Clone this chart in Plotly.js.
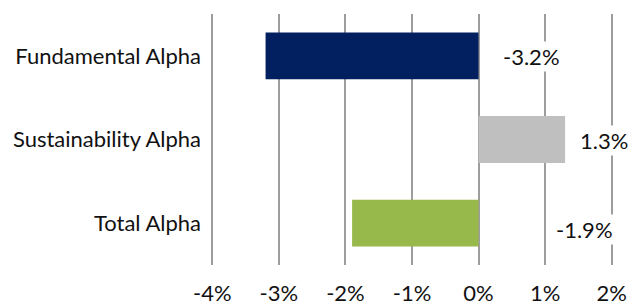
<!DOCTYPE html>
<html>
<head>
<meta charset="utf-8">
<script src="https://cdn.plot.ly/plotly-3.0.1.min.js"></script>
<style>html,body{margin:0;padding:0;background:#fff}#chart{width:628px;height:305px}</style>
</head>
<body>
<div id="chart"></div>
<script>
var categories = ["Fundamental Alpha", "Sustainability Alpha", "Total Alpha"];
var values = [-3.2, 1.3, -1.9];
var barColors = ["#022060", "#BFBFBF", "#97B84A"];
var labelText = ["-3.2%", "1.3%", "-1.9%"];
var tickVals = [-4, -3, -2, -1, 0, 1, 2];
var tickText = ["-4%", "-3%", "-2%", "-1%", "0%", "1%", "2%"];

// label placement (layout only)
var labelX = [0.8, 1.88, 1.59];
var labelShift = [-1, -1, -6];

var FONT = "Lato, 'Noto Sans', sans-serif";
var FS = 22;

var trace = {
  type: "bar",
  orientation: "h",
  y: categories,
  x: values,
  marker: {color: barColors},
  hoverinfo: "none"
};

var annotations = categories.map(function (c, i) {
  return {
    x: labelX[i], y: c, xref: "x", yref: "y",
    text: labelText[i], showarrow: false,
    bgcolor: "#ffffff", borderpad: 1,
    yshift: labelShift[i],
    font: {family: FONT, size: FS, color: "#111111"}
  };
});

var layout = {
  width: 628, height: 305,
  margin: {l: 209, r: 13, t: 14, b: 40},
  paper_bgcolor: "#ffffff", plot_bgcolor: "#ffffff",
  showlegend: false,
  bargap: 0.44,
  font: {family: FONT, size: FS, color: "#111111"},
  xaxis: {
    range: [-4.05, 2.05],
    tickvals: tickVals, ticktext: tickText,
    showgrid: true, gridcolor: "#9d9d9d", gridwidth: 2,
    zeroline: false, showline: false, ticks: "",
    ticklabelstandoff: 13,
    tickfont: {family: FONT, size: FS, color: "#111111"},
    fixedrange: true
  },
  yaxis: {
    type: "category",
    autorange: "reversed",
    showgrid: false, zeroline: false, showline: false, ticks: "",
    ticklabelstandoff: 7,
    tickfont: {family: FONT, size: FS, color: "#111111"},
    fixedrange: true
  },
  annotations: annotations
};

Plotly.newPlot("chart", [trace], layout, {displayModeBar: false, staticPlot: true});
</script>
</body>
</html>
